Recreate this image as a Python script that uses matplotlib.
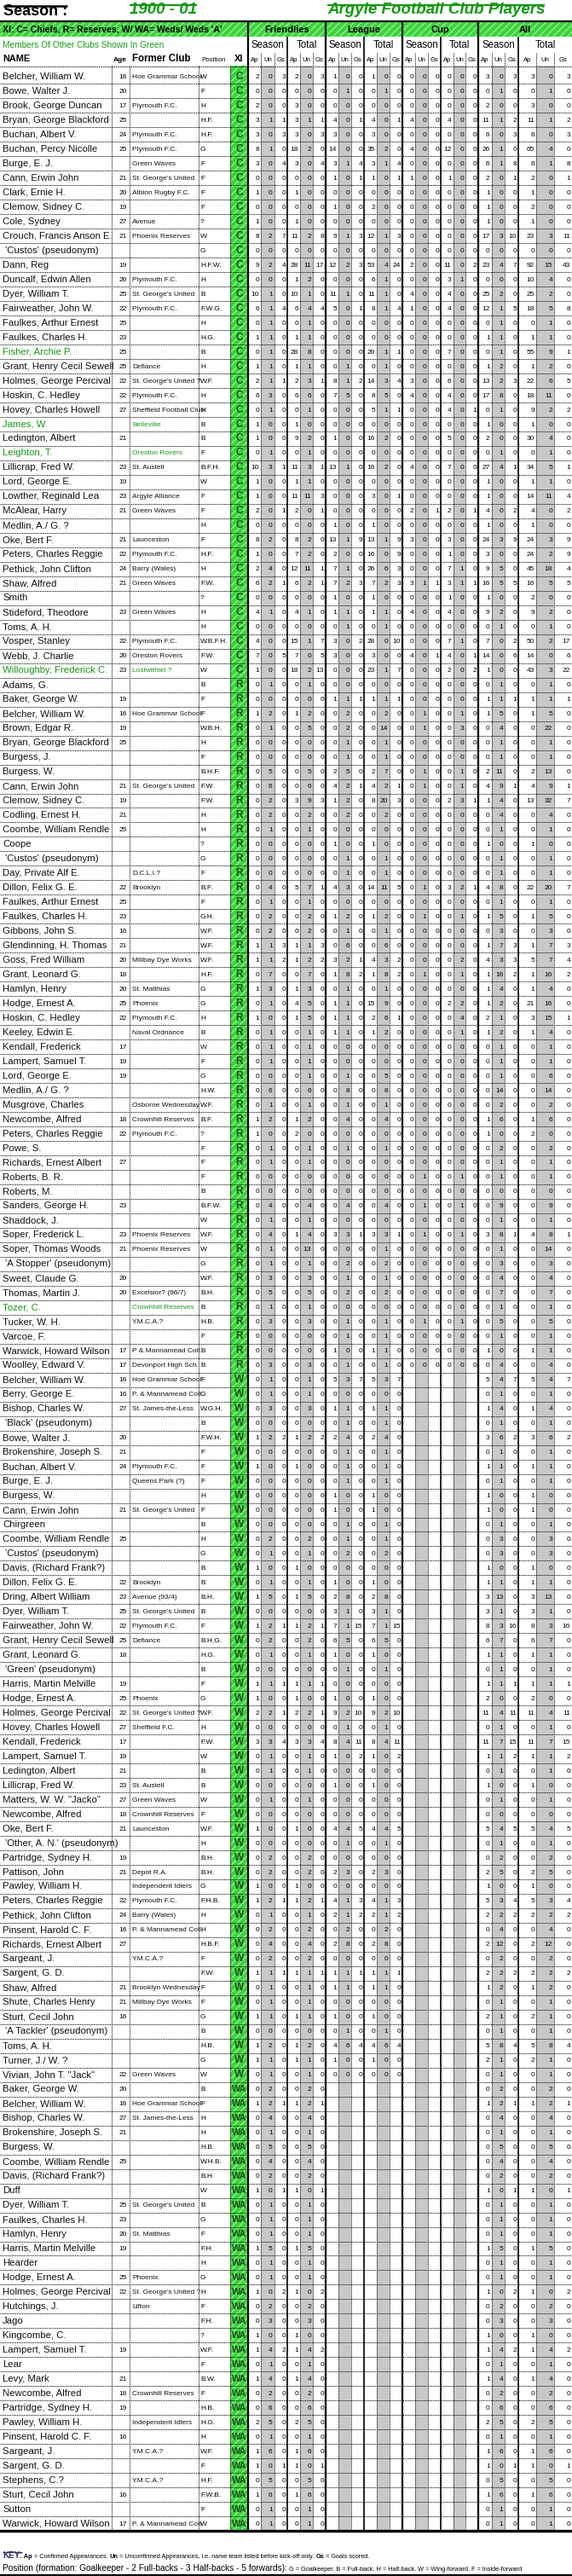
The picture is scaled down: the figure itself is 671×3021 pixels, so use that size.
"""Argyle Football Club Players 1900-01 table"""
import matplotlib
matplotlib.use("Agg")
import matplotlib.pyplot as plt
from matplotlib.patches import Rectangle
from matplotlib.transforms import Bbox, TransformedBbox

plt.rcParams['hatch.linewidth'] = 0.9

names = [
    "Belcher, William W.", "Bowe, Walter J.", "Brook, George Duncan", "Bryan, George Blackford",
    "Buchan, Albert V.", "Buchan, Percy Nicolle", "Burge, E. J.", "Cann, Erwin John",
    "Clark, Ernie H.", "Clemow, Sidney C.", "Cole, Sydney", "Crouch, Francis Anson E.",
    " 'Custos' (pseudonym)", "Dann, Reg", "Duncalf, Edwin Allen", "Dyer, William T.",
    "Fairweather, John W.", "Faulkes, Arthur Ernest", "Faulkes, Charles H.", "Fisher, Archie P.",
    "Grant, Henry Cecil Sewell", "Holmes, George Percival", "Hoskin, C. Hedley", "Hovey, Charles Howell",
    "James, W.", "Ledington, Albert", "Leighton, T.", "Lillicrap, Fred W.",
    "Lord, George E.", "Lowther, Reginald Lea", "McAlear, Harry", "Medlin, A./ G. ?",
    "Oke, Bert F.", "Peters, Charles Reggie", "Pethick, John Clifton", "Shaw, Alfred",
    "Smith", "Stideford, Theodore", "Toms, A. H.", "Vosper, Stanley",
    "Webb, J. Charlie", "Willoughby, Frederick C.",
    # Reserves
    "Adams, G.", "Baker, George W.", "Belcher, William W.", "Brown, Edgar R.",
    "Bryan, George Blackford", "Burgess, J.", "Burgess, W.", "Cann, Erwin John",
    "Clemow, Sidney C.", "Codling, Ernest H.", "Coombe, William Rendle", "Coope",
    " 'Custos' (pseudonym)", "Day, Private Alf E.", "Dillon, Felix G. E.", "Faulkes, Arthur Ernest",
    "Faulkes, Charles H.", "Gibbons, John S.", "Glendinning, H. Thomas", "Goss, Fred William",
    "Grant, Leonard G.", "Hamlyn, Henry", "Hodge, Ernest A.", "Hoskin, C. Hedley",
    "Keeley, Edwin E.", "Kendall, Frederick", "Lampert, Samuel T.", "Lord, George E.",
    "Medlin, A./ G. ?", "Musgrove, Charles", "Newcombe, Alfred", "Peters, Charles Reggie",
    "Powe, S.", "Richards, Ernest Albert", "Roberts, B. R.", "Roberts, M.",
    "Sanders, George H.", "Shaddock, J.", "Soper, Frederick L.", "Soper, Thomas Woods",
    " 'A Stopper' (pseudonym)", "Sweet, Claude G.", "Thomas, Martin J.", "Tozer, C.",
    "Tucker, W. H.", "Varcoe, F.", "Warwick, Howard Wilson", "Woolley, Edward V.",
    # Weds
    "Belcher, William W.", "Berry, George E.", "Bishop, Charles W.", " 'Black' (pseudonym)",
    "Bowe, Walter J.", "Brokenshire, Joseph S.", "Buchan, Albert V.", "Burge, E. J.",
    "Burgess, W.", "Cann, Erwin John", "Chirgreen", "Coombe, William Rendle",
    " 'Custos' (pseudonym)", "Davis, (Richard Frank?)", "Dillon, Felix G. E.", "Dring, Albert William",
    "Dyer, William T.", "Fairweather, John W.", "Grant, Henry Cecil Sewell", "Grant, Leonard G.",
    " 'Green' (pseudonym)", "Harris, Martin Melville", "Hodge, Ernest A.", "Holmes, George Percival",
    "Hovey, Charles Howell", "Kendall, Frederick", "Lampert, Samuel T.", "Ledington, Albert",
    "Lillicrap, Fred W.", "Matters, W. W. \"Jacko\"", "Newcombe, Alfred", "Oke, Bert F.",
    " 'Other, A. N.' (pseudonym)", "Partridge, Sydney H.", "Pattison, John", "Pawley, William H.",
    "Peters, Charles Reggie", "Pethick, John Clifton", "Pinsent, Harold C. F.", "Richards, Ernest Albert",
    "Sargeant, J.", "Sargent, G. D.", "Shaw, Alfred", "Shute, Charles Henry",
    "Sturt, Cecil John", " 'A Tackler' (pseudonym)", "Toms, A. H.", "Turner, J./ W. ?",
    "Vivian, John T. \"Jack\"",
    # Weds 'A'
    "Baker, George W.", "Belcher, William W.", "Bishop, Charles W.", "Brokenshire, Joseph S.",
    "Burgess, W.", "Coombe, William Rendle", "Davis, (Richard Frank?)", "Duff",
    "Dyer, William T.", "Faulkes, Charles H.", "Hamlyn, Henry", "Harris, Martin Melville",
    "Hearder", "Hodge, Ernest A.", "Holmes, George Percival", "Hutchings, J.",
    "Jago", "Kingcombe, C.", "Lampert, Samuel T.", "Lear",
    "Levy, Mark", "Newcombe, Alfred", "Partridge, Sydney H.", "Pawley, William H.",
    "Pinsent, Harold C. F.", "Sargeant, J.", "Sargent, G. D.", "Stephens, C.?",
    "Sturt, Cecil John", "Sutton", "Warwick, Howard Wilson",
]

ages = [
    "16", "20", "17", "25", "24", "25", "", "21", "20", "19", "27", "21", "", "19", "20", "25",
    "22", "25", "23", "25", "25", "22", "22", "27", "", "21", "", "23", "19", "23", "21", "",
    "21", "22", "24", "21", "", "23", "", "22", "20", "23",
    "", "19", "16", "19", "25", "", "", "21", "19", "21", "25", "", "", "", "22", "25",
    "23", "16", "21", "20", "18", "20", "25", "22", "", "17", "19", "19", "", "", "18", "22",
    "", "27", "", "", "23", "", "23", "21", "", "20", "20", "", "", "", "17", "17",
    "16", "16", "27", "", "20", "21", "24", "", "", "21", "", "25", "", "", "22", "23",
    "25", "22", "25", "18", "", "19", "25", "22", "27", "17", "19", "21", "23", "27", "18", "21",
    "", "19", "21", "", "22", "24", "16", "27", "", "", "21", "21", "16", "", "", "", "22",
    "20", "16", "27", "21", "", "25", "", "", "25", "23", "20", "19", "", "25", "22", "",
    "", "", "19", "", "21", "18", "19", "", "16", "", "", "", "16", "", "17",
]

clubs = [
    "Hoe Grammar School", "", "Plymouth F.C.", "", "Plymouth F.C.", "Plymouth F.C.", "Green Waves",
    "St. George's United", "Albion Rugby F.C.", "", "Avenue", "Phoenix Reserves", "", "",
    "Plymouth F.C.", "St. George's United", "Plymouth F.C.", "", "", "", "Defiance",
    "St. George's United ?", "Plymouth F.C.", "Sheffield Football Club", "Belleville", "",
    "Oreston Rovers", "St. Austell", "", "Argyle Alliance", "Green Waves", "", "Launceston",
    "Plymouth F.C.", "Barry (Wales)", "Green Waves", "", "Green Waves", "", "Plymouth F.C.",
    "Oreston Rovers", "Lostwithiel ?",
    "", "", "Hoe Grammar School", "", "", "", "", "St. George's United", "", "", "", "", "",
    "D.C.L.I.?", "Brooklyn", "", "", "", "", "Millbay Dye Works", "", "St. Matthias", "Phoenix",
    "Plymouth F.C.", "Naval Ordnance", "", "", "", "", "Osborne Wednesday", "Crownhill Reserves",
    "Plymouth F.C.", "", "", "", "", "", "", "Phoenix Reserves", "Phoenix Reserves", "", "",
    "Excelsior? (96/7)", "Crownhill Reserves", "Y.M.C.A.?", "", "P & Mannamead Coll.",
    "Devonport High Sch.",
    "Hoe Grammar School", "P. & Mannamead Coll.", "St. James-the-Less", "", "", "", "Plymouth F.C.",
    "Queens Park (?)", "", "St. George's United", "", "", "", "", "Brooklyn", "Avenue (93/4)",
    "St. George's United", "Plymouth F.C.", "Defiance", "", "", "", "Phoenix",
    "St. George's United ?", "Sheffield F.C.", "", "", "", "St. Austell", "Green Waves",
    "Crownhill Reserves", "Launceston", "", "", "Depot R.A.", "Independent Idlers", "Plymouth F.C.",
    "Barry (Wales)", "P. & Mannamead Coll.", "", "Y.M.C.A.?", "", "Brooklyn Wednesday",
    "Millbay Dye Works", "", "", "", "", "Green Waves",
    "", "Hoe Grammar School", "St. James-the-Less", "", "", "", "", "", "St. George's United", "",
    "St. Matthias", "", "", "Phoenix", "St. George's United ?", "Lifton", "", "", "", "", "",
    "Crownhill Reserves", "", "Independent Idlers", "", "Y.M.C.A.?", "", "Y.M.C.A.?", "", "",
    "P. & Mannamead Coll.",
]

positions = [
    "W", "F", "H", "H.F.", "H.F.", "G", "F", "F", "F", "F", "?", "W", "G", "H.F.W.", "H", "B",
    "F.W.G.", "H", "H.G.", "B", "H", "W.F.", "H", "H", "B", "B", "F", "B.F.H.", "W", "F", "F", "H",
    "F", "H.F.", "H", "F.W.", "?", "H", "H", "W.B.F.H.", "F.W.", "W",
    "B", "F", "F", "W.B.H.", "H", "F", "B.H.F.", "F.W.", "F.W.", "H", "H", "?", "G", "F", "B.F.",
    "F", "G.H.", "W.F.", "W.F.", "W.F.", "H.F.", "G", "G", "H", "B", "W", "F", "G", "H.W.", "W.F.",
    "B.F.", "?", "F", "F", "F", "B", "B.F.W.", "W", "W.F.", "W", "G", "W.F.", "B.H.", "B", "H.B.",
    "F", "B", "B",
    "F", "G", "W.G.H.", "B", "F.W.H.", "F", "F", "F", "H", "F", "B", "H", "G", "B", "B", "B.H.",
    "B", "F", "B.H.G.", "H.G.", "B", "F", "G", "W.F.", "H", "F.W.", "W", "B", "B", "W", "F",
    "W.F.", "H", "B.H.", "B.H.", "G", "F.H.B.", "H", "H", "H.B.F.", "F", "F.W.", "F", "F", "G",
    "B", "H.B.", "G", "W",
    "B", "F", "H", "H", "H.B.", "W.H.B.", "B.H.", "W", "B", "G", "F", "F.H.", "H", "G", "H", "F",
    "F.H.", "?", "W.F.", "F", "B.W.", "F", "H.B.", "H.G.", "H", "W.F.", "F", "H.F.", "F.W.B.",
    "F", "W",
]

teams = ["C"] * 42 + ["R"] * 48 + ["W"] * 49 + ["WA"] * 31

# Ap Un Gs for: Friendlies season/total, League season/total, Cup season/total, All season/total
stats = [
    "2 0 3 2 0 3 1 0 0 1 0 0 0 0 0 0 0 0 3 0 3 3 0 3",
    "0 0 0 0 0 0 0 1 0 0 1 0 0 0 0 0 0 0 0 1 0 0 1 0",
    "2 0 0 3 0 0 0 0 0 0 0 0 0 0 0 0 0 0 2 0 0 3 0 0",
    "3 1 1 3 1 1 4 0 1 4 0 1 4 0 0 4 0 0 11 1 2 11 1 2",
    "3 0 3 3 0 3 3 0 0 3 0 0 0 0 0 0 0 0 6 0 3 6 0 3",
    "8 1 0 18 2 0 14 0 0 35 2 0 4 0 0 12 0 0 26 1 0 65 4 0",
    "3 0 4 3 0 4 3 1 4 3 1 4 0 0 0 0 0 0 6 1 8 6 1 8",
    "0 0 0 0 0 0 1 0 1 1 0 1 1 0 0 1 0 0 2 0 1 2 0 1",
    "1 0 0 1 0 0 0 0 0 0 0 0 0 0 0 0 0 0 1 0 0 1 0 0",
    "0 0 0 0 0 0 1 0 0 2 0 0 0 0 0 0 0 0 1 0 0 2 0 0",
    "1 0 0 1 0 0 0 0 0 0 0 0 0 0 0 0 0 0 1 0 0 1 0 0",
    "8 2 7 11 2 8 9 1 3 12 1 3 0 0 0 0 0 0 17 3 10 23 3 11",
    "0 0 0 0 0 0 0 0 0 0 0 0 0 0 0 0 0 0 0 0 0 0 0 0",
    "9 2 4 28 11 17 12 2 3 53 4 24 2 0 0 11 0 2 23 4 7 92 15 43",
    "0 0 0 1 2 0 0 0 0 6 1 0 0 0 0 3 1 0 0 0 0 10 4 0",
    "10 1 0 10 1 0 11 1 0 11 1 0 4 0 0 4 0 0 25 2 0 25 2 0",
    "6 1 4 6 4 4 5 0 1 8 1 4 1 0 0 4 0 0 12 1 5 18 5 8",
    "0 1 0 0 1 0 0 0 0 0 0 0 0 0 0 0 0 0 0 1 0 0 1 0",
    "1 1 0 1 1 0 0 0 0 0 0 0 0 0 0 0 0 0 1 1 0 1 1 0",
    "0 1 0 28 8 0 0 0 0 20 1 1 0 0 0 7 0 0 0 1 0 55 9 1",
    "1 1 0 1 1 0 0 1 0 0 1 0 0 0 0 0 0 0 1 2 0 1 2 0",
    "2 1 1 2 3 1 8 1 2 14 3 4 3 0 0 6 0 0 13 2 3 22 6 5",
    "6 3 0 6 6 0 7 5 0 8 5 0 4 0 0 4 0 0 17 8 0 18 11 0",
    "0 1 0 0 1 0 0 0 0 5 1 1 0 0 0 4 0 1 0 1 0 9 2 2",
    "1 0 0 1 0 0 0 0 0 0 0 0 0 0 0 0 0 0 1 0 0 1 0 0",
    "1 0 0 9 2 0 1 0 0 16 2 0 0 0 0 5 0 0 2 0 0 30 4 0",
    "0 1 0 0 1 0 0 0 0 0 0 0 0 0 0 0 0 0 0 1 0 0 1 0",
    "10 3 1 11 3 1 13 1 0 16 2 0 4 0 0 7 0 0 27 4 1 34 5 1",
    "1 0 0 1 1 0 0 0 0 0 0 0 0 0 0 0 0 0 1 0 0 1 1 0",
    "1 0 0 11 11 3 0 0 0 3 0 1 0 0 0 0 0 0 1 0 0 14 11 4",
    "2 0 1 2 0 1 0 0 0 0 0 0 2 0 1 2 0 1 4 0 2 4 0 2",
    "0 0 0 0 0 0 1 0 0 1 0 0 0 0 0 0 0 0 1 0 0 1 0 0",
    "8 2 0 8 2 0 13 1 9 13 1 9 3 0 0 3 0 0 24 3 9 24 3 9",
    "1 0 0 7 2 0 2 0 0 16 0 9 0 0 0 1 0 0 3 0 0 24 2 9",
    "2 4 0 12 11 1 7 1 0 26 6 3 0 0 0 7 1 0 9 5 0 45 18 4",
    "6 2 1 6 2 1 7 2 3 7 2 3 3 1 1 3 1 1 16 5 5 16 5 5",
    "0 0 0 0 0 0 1 0 0 1 0 0 0 0 0 1 0 0 1 0 0 2 0 0",
    "4 1 0 4 1 0 1 1 0 1 1 0 4 0 0 4 0 0 9 2 0 9 2 0",
    "0 0 0 0 0 0 0 1 0 0 1 0 0 0 0 0 0 0 0 1 0 0 1 0",
    "4 0 0 15 1 7 3 0 2 28 0 10 0 0 0 7 1 0 7 0 2 50 2 17",
    "7 0 5 7 0 5 3 0 0 3 0 0 4 0 1 4 0 1 14 0 6 14 0 6",
    "1 0 0 18 2 13 0 0 0 23 1 7 0 0 0 2 0 2 1 0 0 43 3 22",
    # Reserves
    "0 1 0 0 1 0 0 0 0 0 0 0 0 0 0 0 0 0 0 1 0 0 1 0",
    "0 0 0 0 0 0 1 1 1 1 1 1 0 0 0 0 0 0 1 1 1 1 1 1",
    "1 2 0 1 2 0 0 2 0 0 2 0 0 1 0 0 1 0 1 5 0 1 5 0",
    "0 1 0 0 5 0 0 2 0 0 14 0 0 1 0 0 3 0 0 4 0 0 22 0",
    "0 0 0 0 0 0 0 1 0 0 1 0 0 0 0 0 0 0 0 1 0 0 1 0",
    "0 0 0 0 0 0 0 1 0 0 1 0 0 0 0 0 0 0 0 1 0 0 1 0",
    "0 5 0 0 5 0 2 5 0 2 7 0 0 1 0 0 1 0 2 11 0 2 13 0",
    "0 6 0 0 6 0 4 2 1 4 2 1 0 1 0 0 1 0 4 9 1 4 9 1",
    "0 2 0 3 9 3 1 2 0 8 20 3 0 0 0 2 3 1 1 4 0 13 32 7",
    "0 2 0 0 2 0 0 2 0 0 2 0 0 0 0 0 0 0 0 4 0 0 4 0",
    "0 1 0 0 1 0 0 0 0 0 0 0 0 0 0 0 0 0 0 1 0 0 1 0",
    "0 0 0 0 0 0 1 0 0 1 0 0 0 0 0 0 0 0 1 0 0 1 0 0",
    "0 0 0 0 0 0 0 1 0 0 1 0 0 0 0 0 0 0 0 1 0 0 1 0",
    "0 0 0 0 0 0 0 1 0 0 1 0 0 0 0 0 0 0 0 1 0 0 1 0",
    "0 4 0 5 7 1 4 3 0 14 11 5 0 1 0 3 2 1 4 8 0 22 20 7",
    "0 1 0 0 1 0 0 0 0 0 0 0 0 0 0 0 0 0 0 1 0 0 1 0",
    "0 2 0 0 2 0 1 2 0 1 2 0 0 1 0 0 1 0 1 5 0 1 5 0",
    "0 2 0 0 2 0 0 1 0 0 1 0 0 0 0 0 0 0 0 3 0 0 3 0",
    "1 1 3 1 1 3 0 6 0 0 6 0 0 0 0 0 0 0 1 7 3 1 7 3",
    "1 1 2 1 2 2 3 2 1 4 3 2 0 0 0 0 2 0 4 3 3 5 7 4",
    "0 7 0 0 7 0 1 8 2 1 8 2 0 1 0 0 1 0 1 16 2 1 16 2",
    "1 3 0 1 3 0 0 1 0 0 1 0 0 0 0 0 0 0 1 4 0 1 4 0",
    "0 1 0 4 5 0 1 1 0 15 9 0 0 0 0 2 2 0 1 2 0 21 16 0",
    "1 0 0 1 5 0 1 1 0 2 6 1 0 0 0 0 4 0 2 1 0 3 15 1",
    "0 1 0 0 1 0 1 1 0 1 2 0 0 0 0 0 1 0 1 2 0 1 4 0",
    "0 1 0 0 1 0 0 0 0 0 0 0 0 0 0 0 0 0 0 1 0 0 1 0",
    "0 1 0 0 1 0 0 0 0 0 0 0 0 0 0 0 0 0 0 1 0 0 1 0",
    "0 0 0 0 1 0 0 1 0 0 5 0 0 0 0 0 0 0 0 1 0 0 6 0",
    "0 6 0 0 6 0 0 8 0 0 8 0 0 0 0 0 0 0 0 14 0 0 14 0",
    "0 1 0 0 1 0 0 1 0 0 1 0 0 0 0 0 0 0 0 2 0 0 2 0",
    "1 2 0 1 2 0 0 4 0 0 4 0 0 0 0 0 0 0 1 6 0 1 6 0",
    "1 0 0 2 0 0 0 0 0 0 0 0 0 0 0 0 0 0 1 0 0 2 0 0",
    "0 1 0 0 1 0 0 1 0 0 1 0 0 0 0 0 0 0 0 2 0 0 2 0",
    "0 1 0 0 1 0 0 0 0 0 0 0 0 0 0 0 0 0 0 1 0 0 1 0",
    "0 0 0 0 0 0 0 0 0 0 0 0 0 1 0 0 1 0 0 1 0 0 1 0",
    "0 0 0 0 0 0 0 0 0 0 0 0 0 0 0 0 0 0 0 0 0 0 0 0",
    "0 4 0 0 4 0 0 4 0 0 4 0 0 1 0 0 1 0 0 9 0 0 9 0",
    "0 1 0 0 1 0 0 0 0 0 0 0 0 0 0 0 0 0 0 1 0 0 1 0",
    "0 4 0 1 4 0 3 3 1 3 3 1 0 1 0 0 1 0 3 8 1 4 8 1",
    "0 1 0 0 13 0 0 0 0 0 1 0 0 0 0 0 0 0 0 1 0 0 14 0",
    "0 1 0 0 1 0 0 2 0 0 2 0 0 0 0 0 0 0 0 3 0 0 3 0",
    "0 3 0 0 3 0 0 1 0 0 1 0 0 0 0 0 0 0 0 4 0 0 4 0",
    "0 5 0 0 5 0 0 2 0 0 2 0 0 0 0 0 0 0 0 7 0 0 7 0",
    "0 1 0 0 1 0 0 0 0 0 0 0 0 0 0 0 0 0 0 1 0 0 1 0",
    "0 3 0 0 3 0 0 1 0 0 1 0 0 1 0 0 1 0 0 5 0 0 5 0",
    "0 0 0 0 0 0 0 1 0 0 1 0 0 0 0 0 0 0 0 1 0 0 1 0",
    "0 0 0 0 0 0 1 0 0 1 1 0 0 0 0 0 0 0 1 0 0 1 1 0",
    "0 3 0 0 3 0 0 1 0 0 1 0 0 0 0 0 0 0 0 4 0 0 4 0",
    # Weds (no cup)
    "0 1 0 0 1 0 5 3 7 5 3 7 - - - - - - 5 4 7 5 4 7",
    "0 1 0 0 1 0 0 0 0 0 0 0 - - - - - - 0 1 0 0 1 0",
    "0 3 0 0 3 0 1 1 0 1 1 0 - - - - - - 1 4 0 1 4 0",
    "0 0 0 0 0 0 0 1 0 0 1 0 - - - - - - 0 1 0 0 1 0",
    "1 2 2 1 2 2 2 4 0 2 4 0 - - - - - - 3 6 2 3 6 2",
    "0 0 0 0 0 0 0 1 0 0 1 0 - - - - - - 0 1 0 0 1 0",
    "1 0 0 1 0 0 0 1 0 0 1 0 - - - - - - 1 1 0 1 1 0",
    "0 0 0 0 0 0 0 1 0 0 1 0 - - - - - - 0 1 0 0 1 0",
    "0 0 0 0 0 0 1 0 0 1 0 0 - - - - - - 1 0 0 1 0 0",
    "0 0 0 0 0 0 1 0 0 1 0 0 - - - - - - 1 0 0 1 0 0",
    "0 0 0 0 0 0 0 1 0 0 1 0 - - - - - - 0 1 0 0 1 0",
    "0 2 0 0 2 0 0 1 0 0 1 0 - - - - - - 0 3 0 0 3 0",
    "0 1 0 0 1 0 0 2 0 0 2 0 - - - - - - 0 3 0 0 3 0",
    "1 0 0 1 0 0 0 0 0 0 0 0 - - - - - - 1 0 0 1 0 0",
    "0 1 0 0 1 0 1 0 0 1 0 0 - - - - - - 1 1 0 1 1 0",
    "1 5 0 1 5 0 2 8 0 2 8 0 - - - - - - 3 13 0 3 13 0",
    "0 0 0 0 0 0 3 1 0 3 1 0 - - - - - - 3 1 0 3 1 0",
    "1 2 1 1 2 1 7 1 15 7 1 15 - - - - - - 8 3 16 8 3 16",
    "0 2 0 0 2 0 6 5 0 6 5 0 - - - - - - 6 7 0 6 7 0",
    "0 1 0 0 1 0 1 0 0 1 0 0 - - - - - - 1 1 0 1 1 0",
    "0 0 0 0 0 0 0 1 0 0 1 0 - - - - - - 0 1 0 0 1 0",
    "1 1 1 1 1 1 0 0 0 0 0 0 - - - - - - 1 1 1 1 1 1",
    "1 0 0 1 0 0 1 0 0 1 0 0 - - - - - - 2 0 0 2 0 0",
    "2 2 1 2 2 1 9 2 10 9 2 10 - - - - - - 11 4 11 11 4 11",
    "0 0 0 0 0 0 0 1 0 0 1 0 - - - - - - 0 1 0 0 1 0",
    "3 3 4 3 3 4 8 4 11 8 4 11 - - - - - - 11 7 15 11 7 15",
    "0 1 0 0 1 0 1 0 2 1 0 2 - - - - - - 1 1 2 1 1 2",
    "0 1 0 0 1 0 0 0 0 0 0 0 - - - - - - 0 1 0 0 1 0",
    "0 0 0 0 0 0 1 0 0 1 0 0 - - - - - - 1 0 0 1 0 0",
    "0 1 0 0 1 0 0 0 0 0 0 0 - - - - - - 0 1 0 0 1 0",
    "0 0 0 0 0 0 0 0 0 0 0 0 - - - - - - 0 0 0 0 0 0",
    "1 0 0 1 0 0 4 4 5 4 4 5 - - - - - - 5 4 5 5 4 5",
    "0 0 0 0 0 0 0 1 0 0 1 0 - - - - - - 0 1 0 0 1 0",
    "0 2 0 0 2 0 0 0 0 0 0 0 - - - - - - 0 2 0 0 2 0",
    "0 2 0 0 2 0 2 3 0 2 3 0 - - - - - - 2 5 0 2 5 0",
    "1 0 0 1 0 0 0 0 0 0 0 0 - - - - - - 1 0 0 1 0 0",
    "1 2 1 1 2 1 4 1 3 4 1 3 - - - - - - 5 3 4 5 3 4",
    "0 1 0 0 1 0 2 1 2 2 1 2 - - - - - - 2 2 2 2 2 2",
    "0 2 0 0 2 0 0 2 0 0 2 0 - - - - - - 0 4 0 0 4 0",
    "0 4 0 0 4 0 2 8 0 2 8 0 - - - - - - 2 12 0 2 12 0",
    "0 2 0 0 2 0 0 0 0 0 0 0 - - - - - - 0 2 0 0 2 0",
    "1 1 1 1 1 1 1 1 1 1 1 1 - - - - - - 2 2 2 2 2 2",
    "0 1 0 0 1 0 1 1 0 1 1 0 - - - - - - 1 2 0 1 2 0",
    "0 1 0 0 1 0 0 0 0 0 0 0 - - - - - - 0 1 0 0 1 0",
    "1 1 0 1 1 0 1 0 0 1 0 0 - - - - - - 2 1 0 2 1 0",
    "0 0 0 0 0 0 0 1 0 0 1 0 - - - - - - 0 1 0 0 1 0",
    "1 2 0 1 2 0 4 6 4 4 6 4 - - - - - - 5 8 4 5 8 4",
    "1 1 0 1 1 0 1 0 0 1 0 0 - - - - - - 2 1 0 2 1 0",
    "0 1 0 0 1 0 0 0 0 0 0 0 - - - - - - 0 1 0 0 1 0",
    # Weds 'A' (friendlies only)
    "0 2 0 0 2 0 - - - - - - - - - - - - 0 2 0 0 2 0",
    "1 2 1 1 2 1 - - - - - - - - - - - - 1 2 1 1 2 1",
    "0 4 0 0 4 0 - - - - - - - - - - - - 0 4 0 0 4 0",
    "0 1 0 0 1 0 - - - - - - - - - - - - 0 1 0 0 1 0",
    "0 5 0 0 5 0 - - - - - - - - - - - - 0 5 0 0 5 0",
    "0 4 0 0 4 0 - - - - - - - - - - - - 0 4 0 0 4 0",
    "0 2 0 0 2 0 - - - - - - - - - - - - 0 2 0 0 2 0",
    "1 0 1 1 0 1 - - - - - - - - - - - - 1 0 1 1 0 1",
    "0 1 0 0 1 0 - - - - - - - - - - - - 0 1 0 0 1 0",
    "0 1 0 0 1 0 - - - - - - - - - - - - 0 1 0 0 1 0",
    "0 1 0 0 1 0 - - - - - - - - - - - - 0 1 0 0 1 0",
    "1 5 0 1 5 0 - - - - - - - - - - - - 1 5 0 1 5 0",
    "0 1 0 0 1 0 - - - - - - - - - - - - 0 1 0 0 1 0",
    "0 1 0 0 1 0 - - - - - - - - - - - - 0 1 0 0 1 0",
    "1 0 2 1 0 2 - - - - - - - - - - - - 1 0 2 1 0 2",
    "0 2 0 0 2 0 - - - - - - - - - - - - 0 2 0 0 2 0",
    "0 3 0 0 3 0 - - - - - - - - - - - - 0 3 0 0 3 0",
    "1 0 0 1 0 0 - - - - - - - - - - - - 1 0 0 1 0 0",
    "1 4 2 1 4 2 - - - - - - - - - - - - 1 4 2 1 4 2",
    "0 1 0 0 1 0 - - - - - - - - - - - - 0 1 0 0 1 0",
    "1 4 0 1 4 0 - - - - - - - - - - - - 1 4 0 1 4 0",
    "0 2 0 0 2 0 - - - - - - - - - - - - 0 2 0 0 2 0",
    "0 6 0 0 6 0 - - - - - - - - - - - - 0 6 0 0 6 0",
    "2 5 0 2 5 0 - - - - - - - - - - - - 2 5 0 2 5 0",
    "0 1 0 0 1 0 - - - - - - - - - - - - 0 1 0 0 1 0",
    "1 6 0 1 6 0 - - - - - - - - - - - - 1 6 0 1 6 0",
    "1 0 1 1 0 1 - - - - - - - - - - - - 1 0 1 1 0 1",
    "0 5 0 0 5 0 - - - - - - - - - - - - 0 5 0 0 5 0",
    "1 6 0 1 6 0 - - - - - - - - - - - - 1 6 0 1 6 0",
    "0 1 0 0 1 0 - - - - - - - - - - - - 0 1 0 0 1 0",
    "0 1 0 0 1 0 - - - - - - - - - - - - 0 1 0 0 1 0",
]

# row numbers (0-based) of players from other clubs, drawn in green
green_rows = [19, 24, 26, 41, 85]

groups = ["Friendlies", "League", "Cup", "All"]

GREEN = "#129a12"
BAND = "#3ad53a"
GREY = "#c8c8c8"
SANS = ["Liberation Sans", "DejaVu Sans"]
NARROW = ["Liberation Sans Narrow", "Liberation Sans", "DejaVu Sans"]

W, H = 671, 3021
fig = plt.figure(figsize=(W / 100, H / 100), dpi=100)
ax = fig.add_axes([0, 0, 1, 1])
ax.set_xlim(0, W)
ax.set_ylim(H, 0)
ax.axis("off")

# column layout
x_age, x_club, x_pos, x_xi, x_num = 131, 152, 233, 270, 291
triples = [291, 337, 382, 427, 472, 517, 561, 608, 671]
row_top, row_h = 81.5, 16.98
n = len(names)
y_end = row_top + n * row_h

def cell_edges(t):
    a, b = triples[t], triples[t + 1]
    return [a + k * (b - a) / 3 for k in range(4)]

# grey "Un" stripes
for t in range(8):
    e = cell_edges(t)
    ax.add_patch(Rectangle((e[1], 77), e[2] - e[1], y_end - 77, fc=GREY, ec="none", zorder=0))

# green header band and XI column
ax.add_patch(Rectangle((0, 25), W, 18, fc=BAND, ec="#9ef09e", hatch="////", lw=0, zorder=0))
ax.add_patch(Rectangle((x_xi, 77), x_num - x_xi, y_end - 77, fc=BAND, ec="#9ef09e", hatch="////",
                       lw=0, zorder=0))

def underline(txt, lw=1.6, color="k", pad=2):
    fig.canvas.draw()
    bb = txt.get_window_extent().transformed(ax.transData.inverted())
    ax.plot([bb.x0, bb.x1], [bb.y1 + pad, bb.y1 + pad], color=color, lw=lw, solid_capstyle="butt")

# title
t1 = ax.text(4, 13, "Season :", fontsize=13, fontweight="bold", family=SANS, va="center")
t2 = ax.text(152, 12, "1900 - 01", fontsize=13.5, fontweight="bold", style="italic", color=GREEN,
             family=SANS, va="center")
t3 = ax.text(384, 12, "Argyle Football Club Players", fontsize=13.5, fontweight="bold",
             style="italic", color=GREEN, family=SANS, va="center")
underline(t1, 1.8)
underline(t2, 1.6, GREEN)
underline(t3, 1.6, GREEN)

# header rows
ax.plot([0, W], [25, 25], color="k", lw=1.6)
ax.text(3, 34.5, "XI: C= Chiefs, R= Reserves, W/ WA= Weds/ Weds 'A'", fontsize=7.6,
        fontweight="bold", family=SANS, va="center")
for g, name in enumerate(groups):
    xm = (triples[2 * g] + triples[2 * g + 2]) / 2
    ax.text(xm, 34.5, name, fontsize=8, fontweight="bold", family=SANS, va="center", ha="center")
    ax.text((triples[2 * g] + triples[2 * g + 1]) / 2, 52.5, "Season", fontsize=8.3, family=SANS,
            va="center", ha="center")
    ax.text((triples[2 * g + 1] + triples[2 * g + 2]) / 2, 52.5, "Total", fontsize=8.3, family=SANS,
            va="center", ha="center")
ax.text(3, 52.5, "Members Of Other Clubs Shown In Green", fontsize=7.3, color=GREEN, family=SANS,
        va="center")
ax.text(3, 69, "NAME", fontsize=7.8, fontweight="bold", family=SANS, va="center")
ax.text(133, 70, "Age", fontsize=6, fontweight="bold", family=NARROW, va="center")
ax.text(155, 69, "Former Club", fontsize=8.3, fontweight="bold", family=SANS, va="center")
ax.text(236, 70, "Position", fontsize=5.8, family=NARROW, va="center")
ax.text(280.5, 69, "XI", fontsize=8, fontweight="bold", family=SANS, va="center", ha="center")
for t in range(8):
    e = cell_edges(t)
    for k, lab in enumerate(["Ap", "Un", "Gs"]):
        ax.text((e[k] + e[k + 1]) / 2, 70, lab, fontsize=5.6, family=NARROW, va="center", ha="center")
ax.plot([0, W], [77.5, 77.5], color="k", lw=0.8, ls=(0, (1, 1)))

club_clip = TransformedBbox(Bbox([[x_club, 0], [x_pos - 1, H]]), ax.transData)
name_clip = TransformedBbox(Bbox([[0, 0], [x_age - 1, H]]), ax.transData)

# rows
for i in range(n):
    yc = row_top + (i + 0.5) * row_h
    col = GREEN if i in green_rows else "#111111"
    nt = ax.text(3, yc, names[i], fontsize=8.2, family=SANS, va="center", color=col)
    if names[i].startswith(" 'Other"):
        pass
    else:
        nt.set_clip_box(name_clip)
    ax.text(x_club - 3, yc + 0.5, ages[i], fontsize=6, family=NARROW, va="center", ha="right")
    ct = ax.text(x_club + 3, yc + 0.5, clubs[i], fontsize=6, family=NARROW, va="center", color=col)
    ct.set_clip_box(club_clip)
    ax.text(x_pos + 2, yc + 0.5, positions[i], fontsize=6, family=NARROW, va="center")
    ax.text(x_xi + 10.5, yc, teams[i], fontsize=8.5 if teams[i] != "WA" else 7.8, fontweight="bold",
            family=SANS, va="center", ha="center", color="#1d4d1d")
    vals = stats[i].split()
    for j, v in enumerate(vals):
        if v == "-":
            continue
        e = cell_edges(j // 3)
        ax.text(e[j % 3 + 1] - 2, yc + 0.5, v, fontsize=6, family=NARROW, va="center", ha="right")
    ax.plot([0, W], [row_top + (i + 1) * row_h] * 2, color="k", lw=0.7, ls=(0, (1, 1)))

# vertical separators
for xv in (x_age, x_club, x_pos, x_xi):
    ax.plot([xv, xv], [77, y_end], color="k", lw=0.7, ls=(0, (1, 1)))
for t in range(8):
    e = cell_edges(t)
    for xv in (e[1], e[2]):
        ax.plot([xv, xv], [62, y_end], color="k", lw=0.7, ls=(0, (1, 1)))
for t in range(8):
    xv = triples[t]
    if t % 2 == 0:
        ax.plot([xv, xv], [25, y_end], color="k", lw=1.6)
    else:
        ax.plot([xv, xv], [44, y_end], color="k", lw=1.2)
ax.plot([0, W], [y_end, y_end], color="k", lw=2.4)

# key
k1 = ax.text(3, 2997, "KEY:", fontsize=7.2, fontweight="bold", color="#333366", family=SANS,
             va="center")
underline(k1, 0.9, "#333366", 1)
parts = [(" Ap", True), (" = Confirmed Appearances. ", False), ("Un", True),
         (" = Unconfirmed Appearances, i.e. name team listed before kick-off only. ", False),
         ("Gs", True), (" = Goals scored.", False)]
prev = k1
for txt, bold in parts:
    prev = ax.annotate(txt, xy=(1, 0), xycoords=prev, va="bottom", ha="left", fontsize=5.3,
                       fontweight="bold" if bold else "normal", family=NARROW)
p1 = ax.text(3, 3012, "Position (formation: Goalkeeper - 2 Full-backs - 3 Half-backs - 5 forwards):",
             fontsize=7.3, family=SANS, va="center")
ax.annotate(" G = Goalkeeper. B = Full-back. H = Half-back. W = Wing-forward. F = Inside-forward",
            xy=(1, 0), xycoords=p1, va="bottom", ha="left", fontsize=5.3, family=NARROW)
ax.plot([0, W], [3020, 3020], color="k", lw=2.4)

fig.savefig("out.png", dpi=100)
